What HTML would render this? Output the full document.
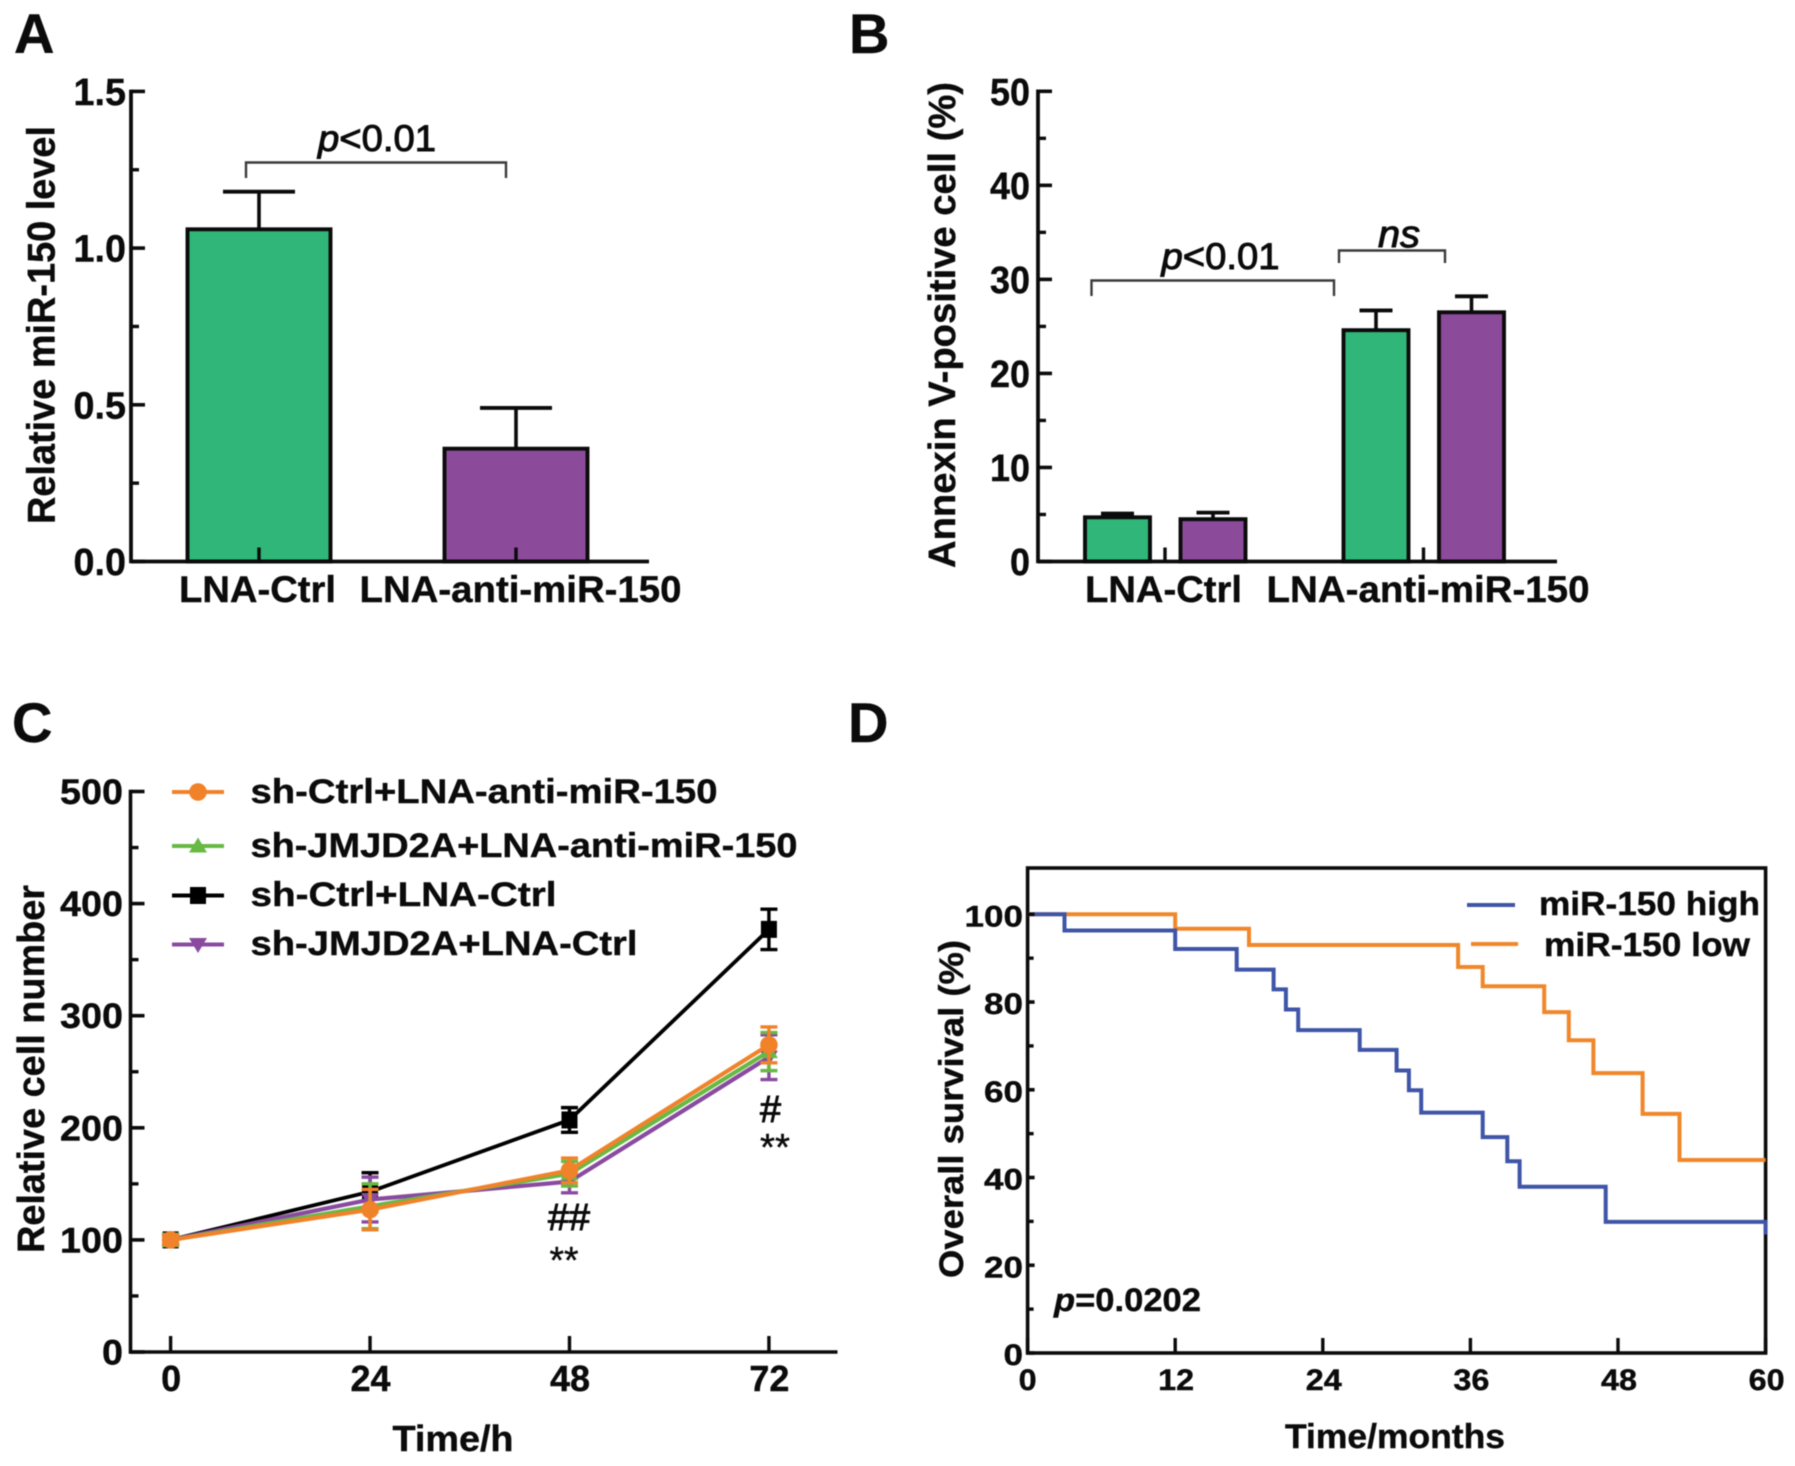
<!DOCTYPE html>
<html lang="en">
<head>
<meta charset="utf-8">
<title>miR-150 figure</title>
<style>
html,body{margin:0;padding:0;background:#fff;}
#figure{display:block;width:1795px;height:1466px;filter:blur(0.6px);}
text{font-family:"Liberation Sans",Arial,sans-serif;fill:#0b0b0b;}
.b{font-weight:700;stroke:#0b0b0b;stroke-width:0.4px;}
</style>
</head>
<body>
<svg id="figure" xmlns="http://www.w3.org/2000/svg" width="1795" height="1466" viewBox="0 0 1795 1466">
  <rect x="0" y="0" width="1795" height="1466" fill="#fff"/>
  <g id="panelA"></g>
  <g id="panelB"></g>
  <g id="panelC"></g>
  <g id="panelD"></g>

  <text class="b" x="14" y="53" font-size="56">A</text>
  <text class="b" x="849" y="53" font-size="56">B</text>
  <text class="b" x="12" y="742" font-size="56">C</text>
  <text class="b" x="848" y="742" font-size="56">D</text>

  <!-- Panel A static text -->
  <text class="b" transform="rotate(-90 54.5 325)" x="54.5" y="325" font-size="39" text-anchor="middle" textLength="398" lengthAdjust="spacingAndGlyphs">Relative miR-150 level</text>
  <text class="b" x="257.5" y="602" font-size="37" text-anchor="middle" textLength="157" lengthAdjust="spacingAndGlyphs">LNA-Ctrl</text>
  <text class="b" x="520.5" y="602" font-size="37" text-anchor="middle" textLength="322" lengthAdjust="spacingAndGlyphs">LNA-anti-miR-150</text>
  <path d="M246 178 V162.5 H506 V178" fill="none" stroke="#3a3a3a" stroke-width="2.4"/>
  <text x="318" y="151" font-size="37" textLength="118" lengthAdjust="spacingAndGlyphs" stroke="#0b0b0b" stroke-width="1"><tspan font-style="italic">p</tspan>&lt;0.01</text>

  <!-- Panel B static text -->
  <text class="b" transform="rotate(-90 955 325)" x="955" y="325" font-size="38" text-anchor="middle" textLength="486" lengthAdjust="spacingAndGlyphs">Annexin V-positive cell (%)</text>
  <text class="b" x="1163.5" y="602" font-size="37" text-anchor="middle" textLength="157" lengthAdjust="spacingAndGlyphs">LNA-Ctrl</text>
  <text class="b" x="1428" y="602" font-size="37" text-anchor="middle" textLength="323" lengthAdjust="spacingAndGlyphs">LNA-anti-miR-150</text>
  <path d="M1091.5 296 V280.5 H1334 V296" fill="none" stroke="#3a3a3a" stroke-width="2.4"/>
  <path d="M1339 263 V250.5 H1445 V263" fill="none" stroke="#3a3a3a" stroke-width="2.4"/>
  <text x="1161.5" y="269" font-size="37" textLength="118" lengthAdjust="spacingAndGlyphs" stroke="#0b0b0b" stroke-width="1"><tspan font-style="italic">p</tspan>&lt;0.01</text>
  <text x="1378" y="247" font-size="38" font-style="italic" textLength="42" lengthAdjust="spacingAndGlyphs" stroke="#0b0b0b" stroke-width="1">ns</text>

  <!-- Panel C static text -->
  <text class="b" transform="rotate(-90 44 1069)" x="44" y="1069" font-size="38" text-anchor="middle" textLength="368" lengthAdjust="spacingAndGlyphs">Relative cell number</text>
  <text class="b" x="453" y="1451" font-size="36" text-anchor="middle" textLength="121" lengthAdjust="spacingAndGlyphs">Time/h</text>
  <text x="569" y="1230" font-size="38" text-anchor="middle" textLength="42" lengthAdjust="spacingAndGlyphs" stroke="#0b0b0b" stroke-width="1">##</text>
  <text x="564" y="1273" font-size="38" text-anchor="middle" textLength="29" lengthAdjust="spacingAndGlyphs" stroke="#0b0b0b" stroke-width="0.4">**</text>
  <text x="770.5" y="1122" font-size="38" text-anchor="middle" textLength="21" lengthAdjust="spacingAndGlyphs" stroke="#0b0b0b" stroke-width="1">#</text>
  <text x="775" y="1160" font-size="38" text-anchor="middle" textLength="30" lengthAdjust="spacingAndGlyphs" stroke="#0b0b0b" stroke-width="0.4">**</text>
  <text class="b" x="250.5" y="803" font-size="34" textLength="467" lengthAdjust="spacingAndGlyphs">sh-Ctrl+LNA-anti-miR-150</text>
  <text class="b" x="250.5" y="857" font-size="34" textLength="547" lengthAdjust="spacingAndGlyphs">sh-JMJD2A+LNA-anti-miR-150</text>
  <text class="b" x="250.5" y="906" font-size="34" textLength="306" lengthAdjust="spacingAndGlyphs">sh-Ctrl+LNA-Ctrl</text>
  <text class="b" x="250.5" y="955" font-size="34" textLength="387" lengthAdjust="spacingAndGlyphs">sh-JMJD2A+LNA-Ctrl</text>

  <!-- Panel D static text -->
  <text class="b" transform="rotate(-90 963 1109)" x="963" y="1109" font-size="34" text-anchor="middle" textLength="338" lengthAdjust="spacingAndGlyphs">Overall survival (%)</text>
  <text class="b" x="1395" y="1448" font-size="34" text-anchor="middle" textLength="220" lengthAdjust="spacingAndGlyphs">Time/months</text>
  <text class="b" x="1054" y="1311" font-size="32" textLength="147" lengthAdjust="spacingAndGlyphs"><tspan font-style="italic">p</tspan>=0.0202</text>
  <line x1="1467" y1="905" x2="1515" y2="905" stroke="#3f55a8" stroke-width="4"/>
  <line x1="1471" y1="944" x2="1518" y2="944" stroke="#f0872a" stroke-width="4"/>
  <text class="b" x="1539" y="915" font-size="33" textLength="221" lengthAdjust="spacingAndGlyphs">miR-150 high</text>
  <text class="b" x="1544" y="956" font-size="33" textLength="206" lengthAdjust="spacingAndGlyphs">miR-150 low</text>
</svg>

<script>
// ---- Panel A data ----
const aCategories = ['LNA-Ctrl', 'LNA-anti-miR-150'];
const aValues = [1.06, 0.36];
const aErrors = [0.12, 0.13];
const aTickLabels = ['0.0', '0.5', '1.0', '1.5'];
const aTickValues = [0, 0.5, 1, 1.5];
const aMinorTicks = [0.25, 0.75, 1.25];

// ---- Panel B data ----
const bGroups = ['LNA-Ctrl', 'LNA-anti-miR-150'];
const bGreenValues = [4.7, 24.6];
const bGreenErrors = [0.4, 2.1];
const bPurpleValues = [4.5, 26.5];
const bPurpleErrors = [0.7, 1.7];
const bTickLabels = ['0', '10', '20', '30', '40', '50'];
const bTickValues = [0, 10, 20, 30, 40, 50];
const bMinorTicks = [5, 15, 25, 35, 45];

// ---- Panel C data ----
const cHours = [0, 24, 48, 72];
const cBlack = [100, 143, 207, 377];
const cBlackErr = [4, 17, 11, 18];
const cPurple = [100, 136, 152, 263];
const cPurpleErr = [4, 20, 10, 20];
const cGreen = [100, 130, 159, 268];
const cGreenErr = [5, 20, 11, 17];
const cOrange = [100, 127, 162, 274];
const cOrangeErr = [4, 18, 11, 16];
const cTickLabels = ['0', '100', '200', '300', '400', '500'];
const cTickValues = [0, 100, 200, 300, 400, 500];
const cMinorTicks = [50, 150, 250, 350, 450];

// ---- Panel D data ----
const dHighTimes = [0, 3, 12, 17, 20, 21, 22, 27, 30, 31, 32, 37, 39, 40, 47, 60, 60];
const dHighSurvival = [100, 96.3, 92.1, 87.4, 82.9, 78.3, 73.6, 69.1, 64.4, 59.9, 54.8, 49.2, 43.7, 37.9, 29.9, 29.9, 27];
const dLowTimes = [0, 12, 18, 35, 37, 42, 44, 46, 50, 53, 60];
const dLowSurvival = [100, 96.7, 93, 88, 83.6, 77.7, 71.3, 63.8, 54.5, 44, 44];
const dTickLabels = ['0', '20', '40', '60', '80', '100'];
const dTickValues = [0, 20, 40, 60, 80, 100];
const dMinorTicks = [10, 30, 50, 70, 90];
const dXTicks = [0, 12, 24, 36, 48, 60];

const SVGNS = 'http://www.w3.org/2000/svg';
const INK = '#0b0b0b';
const GREEN_BAR = '#2fb678';
const PURPLE_BAR = '#8c4a9b';

function make(tag, attrs, parent) {
  const el = document.createElementNS(SVGNS, tag);
  Object.keys(attrs).forEach(function (k) { el.setAttribute(k, attrs[k]); });
  parent.appendChild(el);
  return el;
}
function line(parent, x1, y1, x2, y2, color, w) {
  return make('line', { x1: x1, y1: y1, x2: x2, y2: y2, stroke: color, 'stroke-width': w }, parent);
}

// ---- Axis functions ----
function yA(v) { return 561.5 - v * 313.4; }
function xA(i) { return 259 + i * 257; }
function yB(v) { return 561.5 - v * 9.404; }
function xB(group, offset) { return 1165 + group * 258.5 + offset; }
function yC(v) { return 1352 - v * 1.121; }
function xC(h) { return 170.6 + h * 8.31; }
function yD(v) { return 1353 - v * 4.387; }
function xD(t) { return 1027.6 + t * 12.3; }

function yTicks(parent, axisX, values, labels, minor, yFn, size, majorLen, minorLen, labelRight, charW, baseShift, prefix) {
  values.forEach(function (v, i) {
    const t = line(parent, axisX, yFn(v), axisX + majorLen, yFn(v), INK, 3.6);
    
    
    const lab = make('text', {
      x: labelRight, y: yFn(v) + baseShift, 'font-size': size, 'text-anchor': 'end', 'class': 'b',
      textLength: labels[i].length * charW, lengthAdjust: 'spacingAndGlyphs'
    }, parent);
    lab.textContent = labels[i];
    
    
  });
  minor.forEach(function (v) {
    const m = line(parent, axisX, yFn(v), axisX + minorLen, yFn(v), INK, 3.4);
    
    
  });
}

function drawBar(parent, cx, value, err, yFn, width, capW, color, name) {
  const top = yFn(value);
  const base = yFn(0);
  const stem = line(parent, cx, top, cx, yFn(value + err), INK, 3.6);
  
  
  const cap = line(parent, cx - capW / 2, yFn(value + err), cx + capW / 2, yFn(value + err), INK, 3.8);
  
  
  const r = make('rect', { x: cx - width / 2, y: top, width: width, height: base - top, fill: color, stroke: INK, 'stroke-width': 3.9 }, parent);
  
  
}

// ---- Panel A ----
(function () {
  const g = document.getElementById('panelA');
  const colors = [GREEN_BAR, PURPLE_BAR];
  aCategories.forEach(function (c, i) {
    drawBar(g, xA(i), aValues[i], aErrors[i], yA, 143, 72, colors[i], 'panel-a-bar-' + i);
    const t = line(g, xA(i), yA(0), xA(i), yA(0) - 14, INK, 3.4);
    
    
  });
  const ya = line(g, 131, yA(1.5) - 1.8, 131, yA(0) + 1.8, INK, 3.8);
  
  
  const xa = line(g, 131, yA(0), 649, yA(0), INK, 3.8);
  
  
  yTicks(g, 131, aTickValues, aTickLabels, aMinorTicks, yA, 38, 14, 8, 126, 17.5, 13.5, 'panel-a');
})();

// ---- Panel B ----
(function () {
  const g = document.getElementById('panelB');
  bGroups.forEach(function (c, i) {
    drawBar(g, xB(i, -47.5), bGreenValues[i], bGreenErrors[i], yB, 65, 33, GREEN_BAR, 'panel-b-green-bar-' + i);
    drawBar(g, xB(i, 48), bPurpleValues[i], bPurpleErrors[i], yB, 65, 33, PURPLE_BAR, 'panel-b-purple-bar-' + i);
    const t = line(g, xB(i, 0), yB(0), xB(i, 0), yB(0) - 14, INK, 3.4);
    
    
  });
  const ya = line(g, 1038, yB(50) - 1.8, 1038, yB(0) + 1.8, INK, 3.8);
  
  
  const xa = line(g, 1038, yB(0), 1557, yB(0), INK, 3.8);
  
  
  yTicks(g, 1038, bTickValues, bTickLabels, bMinorTicks, yB, 38, 14, 8, 1030, 20, 13.5, 'panel-b');
})();

// ---- Panel C ----
function marker(parent, kind, x, y, color) {
  let m;
  if (kind === 'circle') {
    m = make('circle', { cx: x, cy: y, r: 8.8, fill: color }, parent);
  } else if (kind === 'square') {
    m = make('rect', { x: x - 8, y: y - 8.5, width: 16, height: 17, fill: color }, parent);
  } else if (kind === 'up') {
    m = make('path', { d: 'M' + x + ' ' + (y - 8.5) + ' L' + (x + 9) + ' ' + (y + 6.5) + ' L' + (x - 9) + ' ' + (y + 6.5) + ' Z', fill: color }, parent);
  } else {
    m = make('path', { d: 'M' + x + ' ' + (y + 8.5) + ' L' + (x + 9) + ' ' + (y - 6.5) + ' L' + (x - 9) + ' ' + (y - 6.5) + ' Z', fill: color }, parent);
  }
  return m;
}

(function () {
  const g = document.getElementById('panelC');
  const ya = line(g, 130.5, yC(500) - 1.8, 130.5, yC(0) + 1.8, INK, 3.6);
  
  
  const xa = line(g, 130.5, yC(0), 837.5, yC(0), INK, 3.6);
  
  
  yTicks(g, 130.5, cTickValues, cTickLabels, cMinorTicks, yC, 35, 14, 8, 123, 21, 12.5, 'panel-c');
  cHours.forEach(function (h) {
    const t = line(g, xC(h), yC(0), xC(h), yC(0) - 16, INK, 3.4);
    
    
    const lab = make('text', { x: xC(h) + 0.5, y: 1391, 'font-size': 36, 'text-anchor': 'middle', 'class': 'b' }, g);
    lab.textContent = String(h);
    
    
  });

  const series = [
    { key: 'black', vals: cBlack, errs: cBlackErr, color: '#000000', kind: 'square', w: 3.8 },
    { key: 'purple', vals: cPurple, errs: cPurpleErr, color: '#8a4aa0', kind: 'down', w: 4.2 },
    { key: 'green', vals: cGreen, errs: cGreenErr, color: '#67b944', kind: 'up', w: 4.2 },
    { key: 'orange', vals: cOrange, errs: cOrangeErr, color: '#f0822a', kind: 'circle', w: 4.2 }
  ];
  series.forEach(function (s) {
    const pts = s.vals.map(function (v, i) { return xC(cHours[i]) + ',' + yC(v); }).join(' ');
    const pl = make('polyline', { points: pts, fill: 'none', stroke: s.color, 'stroke-width': s.w }, g);
    
    
    s.vals.forEach(function (v, i) {
      const x = xC(cHours[i]);
      const d = 'M' + x + ' ' + yC(v + s.errs[i]) + ' V' + yC(v - s.errs[i]) +
        ' M' + (x - 8.5) + ' ' + yC(v + s.errs[i]) + ' H' + (x + 8.5) +
        ' M' + (x - 8.5) + ' ' + yC(v - s.errs[i]) + ' H' + (x + 8.5);
      const e = make('path', { d: d, fill: 'none', stroke: s.color, 'stroke-width': 3.4 }, g);
      
      
      const m = marker(g, s.kind, x, yC(v), s.color);
      
      
    });
  });

  const legendRows = [
    { color: '#f0822a', kind: 'circle', y: 792, name: 'orange' },
    { color: '#67b944', kind: 'up', y: 846, name: 'green' },
    { color: '#000000', kind: 'square', y: 895.5, name: 'black' },
    { color: '#8a4aa0', kind: 'down', y: 944.5, name: 'purple' }
  ];
  legendRows.forEach(function (r) {
    const l = line(g, 172, r.y, 224, r.y, r.color, 4);
    
    
    const m = marker(g, r.kind, 198, r.y, r.color);
    
    
  });
})();

// ---- Panel D ----
function stepPath(times, vals) {
  let d = 'M' + xD(times[0]) + ' ' + yD(vals[0]);
  for (let i = 1; i < times.length; i++) {
    d += ' H' + xD(times[i]) + ' V' + yD(vals[i]);
  }
  return d;
}

(function () {
  const g = document.getElementById('panelD');
  const frame = make('rect', { x: xD(0), y: 868, width: xD(60) - xD(0), height: yD(0) - 868, fill: 'none', stroke: INK, 'stroke-width': 3.6 }, g);
  
  
  const low = make('path', { d: stepPath(dLowTimes, dLowSurvival), fill: 'none', stroke: '#f0872a', 'stroke-width': 4 }, g);
  
  
  const high = make('path', { d: stepPath(dHighTimes, dHighSurvival), fill: 'none', stroke: '#3f55a8', 'stroke-width': 4 }, g);
  
  
  yTicks(g, xD(0), dTickValues, dTickLabels, dMinorTicks, yD, 30, 7, 6, 1023, 19.5, 12, 'panel-d');
  dXTicks.forEach(function (t) {
    const tk = line(g, xD(t), yD(0), xD(t), yD(0) - 15, INK, 3.4);
    
    
    const lab = make('text', { x: xD(t) + (t === 0 ? 0 : 1), y: 1390, 'font-size': 30, 'text-anchor': 'middle', 'class': 'b', textLength: String(t).length * 18, lengthAdjust: 'spacingAndGlyphs' }, g);
    lab.textContent = String(t);
    
    
  });
})();
</script>
</body>
</html>
